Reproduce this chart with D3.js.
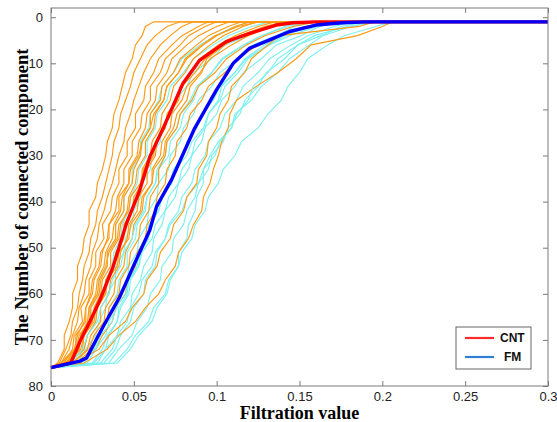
<!DOCTYPE html>
<html>
<head>
<meta charset="utf-8">
<script src="https://cdn.jsdelivr.net/npm/d3@7/dist/d3.min.js"></script>
<style>
  body { margin: 0; background: #fff; }
  svg { display: block; }
</style>
</head>
<body>
<div id="chart"></div>
<script>
// y levels (number of connected components) shared by the individual curves
const levels = [76, 75, 72, 69, 66, 63, 60, 57, 54, 51, 48, 45, 42, 39, 36, 33, 30, 27, 24, 21, 18, 15, 12, 9, 6, 4, 2, 1];

// CNT subjects: filtration value at which each level is reached
const cntCurves = [
  [0, .004, .008, .008, .011, .013, .013, .016, .016, .019, .020, .023, .023, .027, .028, .031, .033, .034, .037, .038, .041, .043, .045, .049, .051, .055, .057, .062],
  [0, .005, .009, .012, .013, .016, .017, .019, .020, .023, .024, .027, .028, .031, .033, .035, .037, .038, .041, .042, .045, .048, .050, .054, .058, .063, .070, .078],
  [0, .006, .011, .013, .016, .017, .020, .021, .024, .025, .028, .029, .032, .034, .037, .039, .041, .044, .045, .048, .050, .053, .056, .060, .066, .072, .079, .086],
  [0, .008, .013, .014, .019, .018, .023, .023, .027, .027, .032, .031, .036, .037, .041, .041, .046, .046, .051, .051, .056, .057, .062, .065, .073, .079, .089, .095],
  [0, .007, .015, .015, .021, .021, .025, .026, .030, .031, .034, .035, .039, .040, .044, .044, .049, .049, .054, .055, .060, .060, .066, .069, .078, .083, .093, .100],
  [0, .010, .016, .018, .022, .023, .027, .028, .032, .033, .037, .038, .042, .043, .047, .047, .052, .053, .057, .058, .063, .064, .070, .073, .082, .089, .100, .108],
  [0, .009, .017, .018, .024, .024, .029, .030, .034, .034, .039, .039, .044, .044, .049, .050, .054, .055, .060, .060, .066, .067, .074, .078, .088, .095, .107, .115],
  [0, .012, .019, .020, .025, .026, .030, .031, .036, .036, .041, .042, .046, .047, .051, .052, .057, .057, .062, .063, .068, .070, .077, .082, .092, .100, .111, .120],
  [0, .011, .020, .022, .027, .028, .033, .033, .038, .039, .044, .044, .049, .050, .055, .055, .060, .061, .066, .067, .072, .074, .081, .086, .096, .104, .116, .125],
  [0, .013, .022, .024, .030, .030, .035, .036, .041, .042, .046, .047, .052, .053, .058, .058, .063, .064, .069, .070, .076, .078, .085, .090, .101, .111, .125, .135],
  [0, .013, .023, .026, .032, .033, .038, .039, .044, .045, .049, .050, .055, .056, .061, .061, .066, .067, .072, .073, .079, .082, .090, .096, .109, .119, .133, .145],
  [0, .015, .025, .028, .034, .035, .041, .042, .047, .048, .053, .054, .059, .060, .065, .065, .069, .070, .076, .078, .085, .089, .099, .106, .118, .129, .146, .160],
  [0, .017, .027, .031, .037, .039, .045, .046, .051, .052, .057, .058, .063, .064, .069, .070, .075, .076, .082, .084, .091, .095, .105, .112, .125, .137, .153, .170],
  [0, .020, .034, .041, .051, .057, .065, .069, .075, .077, .083, .086, .091, .092, .096, .098, .101, .103, .107, .108, .112, .124, .137, .148, .157, .185, .200, .206],
  [0, .015, .029, .035, .045, .049, .056, .058, .064, .066, .072, .074, .080, .082, .088, .089, .094, .095, .100, .102, .107, .109, .117, .121, .131, .138, .186, .195],
  [0, .010, .018, .020, .026, .027, .033, .034, .040, .041, .047, .048, .054, .055, .061, .062, .068, .069, .074, .076, .082, .084, .091, .094, .105, .114, .129, .140],
  [0, .006, .014, .016, .020, .021, .024, .025, .029, .030, .035, .035, .041, .041, .047, .048, .053, .055, .060, .062, .068, .070, .077, .081, .091, .099, .113, .125],
  [0, .009, .015, .017, .023, .023, .028, .029, .033, .035, .040, .041, .047, .048, .054, .056, .062, .063, .069, .071, .077, .079, .087, .093, .104, .114, .131, .150]
];

// FM subjects
const fmCurves = [
  [0, .010, .017, .018, .024, .024, .029, .029, .034, .034, .039, .039, .044, .044, .049, .049, .054, .054, .059, .060, .065, .067, .074, .079, .090, .099, .111, .120],
  [0, .014, .020, .022, .027, .028, .032, .033, .037, .038, .042, .043, .047, .048, .052, .053, .058, .058, .063, .064, .070, .072, .080, .086, .098, .107, .121, .132],
  [0, .016, .021, .027, .029, .033, .034, .039, .039, .044, .045, .049, .050, .054, .055, .060, .061, .066, .067, .073, .075, .082, .086, .097, .105, .119, .129, .142],
  [0, .020, .026, .029, .034, .035, .040, .041, .046, .046, .051, .052, .057, .058, .063, .064, .069, .070, .076, .078, .084, .088, .097, .104, .117, .127, .141, .152],
  [0, .022, .027, .033, .035, .040, .041, .046, .047, .052, .053, .058, .059, .064, .065, .071, .072, .078, .080, .086, .089, .097, .102, .113, .122, .136, .147, .160],
  [0, .025, .031, .034, .040, .042, .047, .048, .053, .054, .059, .060, .065, .067, .072, .074, .080, .082, .088, .091, .098, .102, .111, .118, .131, .141, .156, .168],
  [0, .028, .033, .040, .042, .048, .049, .054, .056, .061, .062, .067, .069, .075, .077, .083, .085, .091, .093, .100, .103, .111, .116, .127, .136, .151, .162, .175],
  [0, .032, .039, .042, .048, .050, .056, .057, .063, .064, .069, .071, .077, .079, .085, .087, .093, .095, .102, .105, .112, .116, .125, .132, .145, .155, .171, .182],
  [0, .035, .041, .049, .052, .058, .060, .066, .067, .073, .074, .080, .082, .087, .089, .095, .097, .104, .107, .114, .117, .125, .130, .141, .149, .163, .175, .190],
  [0, .040, .048, .053, .061, .064, .070, .072, .077, .077, .082, .083, .087, .088, .092, .092, .096, .101, .109, .111, .121, .127, .137, .144, .156, .164, .181, .195],
  [0, .038, .046, .051, .059, .062, .069, .071, .077, .079, .085, .087, .093, .095, .101, .104, .111, .115, .125, .131, .139, .143, .150, .155, .167, .177, .196, .205],
  [0, .012, .019, .022, .028, .030, .035, .037, .042, .044, .049, .051, .056, .058, .063, .065, .071, .072, .078, .080, .086, .089, .097, .103, .116, .127, .143, .158],
  [0, .026, .033, .035, .040, .041, .046, .047, .052, .053, .058, .059, .065, .067, .073, .075, .082, .085, .092, .095, .102, .105, .113, .119, .132, .144, .161, .175],
  [0, .018, .027, .030, .037, .039, .045, .047, .053, .055, .061, .063, .069, .071, .077, .079, .085, .087, .093, .095, .101, .103, .111, .117, .129, .139, .156, .170],
  [0, .030, .037, .040, .046, .048, .053, .055, .061, .063, .069, .072, .079, .082, .089, .092, .099, .102, .109, .112, .119, .122, .131, .137, .149, .159, .179, .198]
];

// group means
const cntMeanX = [0, .012, .0175, .0235, .0295, .0375, .0456, .0536, .0596, .0677, .0797, .0898, .1058, .120, .136, .146, .160, .300];
const cntMeanY = [76, 75, 70.3, 66, 61.4, 54.1, 44.7, 37.5, 30.3, 24.1, 14.3, 9.3, 5.3, 3.5, 1.7, 1.2, 1, 1];
const fmMeanX = [0, .0175, .0215, .0315, .0416, .0496, .0596, .0637, .0727, .0867, .0998, .110, .120, .132, .144, .160, .176, .190, .300];
const fmMeanY = [76, 74.6, 73.9, 67.1, 60.6, 54.1, 46.2, 41.1, 35.3, 24.1, 15.8, 10, 6.7, 4.9, 3.1, 1.7, 1.2, 1, 1];

const xTicks = [0, 0.05, 0.1, 0.15, 0.2, 0.25, 0.3];
const yTicks = [0, 10, 20, 30, 40, 50, 60, 70, 80];
const legendNames = ['CNT', 'FM'];

const width = 557, height = 422;
const plot = { left: 51, right: 548, top: 8, bottom: 386 };

const svg = d3.select('#chart').append('svg')
  .attr('width', width)
  .attr('height', height);

const x = d3.scaleLinear().domain([0, 0.3]).range([plot.left, plot.right]);
const y = d3.scaleLinear().domain([-2, 80]).range([plot.top, plot.bottom]);

const line = d3.line().x(d => x(d[0])).y(d => y(d[1]));

// each curve sits flat at 1 component after it reaches it
function curvePoints(xs) {
  const pts = xs.map((v, i) => [v, levels[i]]);
  pts.push([x.domain()[1], levels[levels.length - 1]]);
  return pts;
}

// interleave the two groups so neither colour sits fully on top
const subjects = [];
for (let i = 0; i < Math.max(cntCurves.length, fmCurves.length); i++) {
  if (fmCurves[i]) subjects.push({ group: 'fm', xs: fmCurves[i] });
  if (cntCurves[i]) subjects.push({ group: 'cnt', xs: cntCurves[i] });
}

const g = svg.append('g');

g.selectAll('path.subject')
    .data(subjects)
  .enter().append('path')
    .attr('class', 'subject')
    .attr('d', d => line(curvePoints(d.xs)))
    .attr('fill', 'none')
    .attr('stroke', d => d.group === 'fm' ? '#7ef0f0' : '#ff9a14')
    .attr('stroke-width', 1.15);

g.append('path')
  .attr('d', line(cntMeanX.map((v, i) => [v, cntMeanY[i]])))
  .attr('fill', 'none')
  .attr('stroke', '#ff0000')
  .attr('stroke-width', 3.4)
  .attr('stroke-linejoin', 'round');

g.append('path')
  .attr('d', line(fmMeanX.map((v, i) => [v, fmMeanY[i]])))
  .attr('fill', 'none')
  .attr('stroke', '#0000ff')
  .attr('stroke-width', 3.4)
  .attr('stroke-linejoin', 'round');

// box and inward ticks, matlab style
const axisColor = '#7a7a7a';
const tickFont = '"Liberation Sans", Arial, sans-serif';

function styleAxis(sel) {
  sel.select('.domain').remove();
  sel.selectAll('line').attr('stroke', axisColor);
  sel.selectAll('text').attr('font-family', tickFont).attr('font-size', 13).attr('fill', '#222');
}

svg.append('g')
  .attr('transform', `translate(0,${plot.bottom})`)
  .call(d3.axisBottom(x).tickValues(xTicks).tickSize(-5).tickPadding(6).tickFormat(d3.format('~g')))
  .call(styleAxis);

svg.append('g')
  .attr('transform', `translate(0,${plot.top})`)
  .call(d3.axisTop(x).tickValues(xTicks).tickSize(-5).tickFormat(''))
  .call(styleAxis);

svg.append('g')
  .attr('transform', `translate(${plot.left},0)`)
  .call(d3.axisLeft(y).tickValues(yTicks).tickSize(-5).tickPadding(8))
  .call(styleAxis);

svg.append('g')
  .attr('transform', `translate(${plot.right},0)`)
  .call(d3.axisRight(y).tickValues(yTicks).tickSize(-5).tickFormat(''))
  .call(styleAxis);

svg.append('rect')
  .attr('x', plot.left).attr('y', plot.top)
  .attr('width', plot.right - plot.left).attr('height', plot.bottom - plot.top)
  .attr('fill', 'none')
  .attr('stroke', axisColor);

// axis titles
svg.append('text')
  .attr('x', (plot.left + plot.right) / 2)
  .attr('y', 419)
  .attr('text-anchor', 'middle')
  .attr('font-family', '"Liberation Serif", "Times New Roman", serif')
  .attr('font-weight', 'bold')
  .attr('font-size', 18)
  .text('Filtration value');

svg.append('text')
  .attr('transform', `translate(28,${(plot.top + plot.bottom) / 2}) rotate(-90)`)
  .attr('text-anchor', 'middle')
  .attr('font-family', '"Liberation Serif", "Times New Roman", serif')
  .attr('font-weight', 'bold')
  .attr('font-size', 18.5)
  .text('The Number of connected component');

// legend
const legendColors = ['#ff2a2a', '#2f80d2'];
const legend = svg.append('g').attr('transform', 'translate(456,327)');
legend.append('rect')
  .attr('width', 75).attr('height', 42)
  .attr('fill', '#fff')
  .attr('stroke', '#666');

const item = legend.selectAll('g.item')
    .data(legendNames)
  .enter().append('g')
    .attr('class', 'item')
    .attr('transform', (d, i) => `translate(0,${11 + i * 19})`);

item.append('line')
  .attr('x1', 9).attr('x2', 38)
  .attr('stroke', (d, i) => legendColors[i])
  .attr('stroke-width', 2.2);

item.append('text')
  .attr('x', (d, i) => i === 0 ? 44 : 48)
  .attr('dy', '0.35em')
  .attr('font-family', tickFont)
  .attr('font-weight', 'bold')
  .attr('font-size', 12)
  .attr('fill', '#111')
  .text(d => d);
</script>
</body>
</html>
